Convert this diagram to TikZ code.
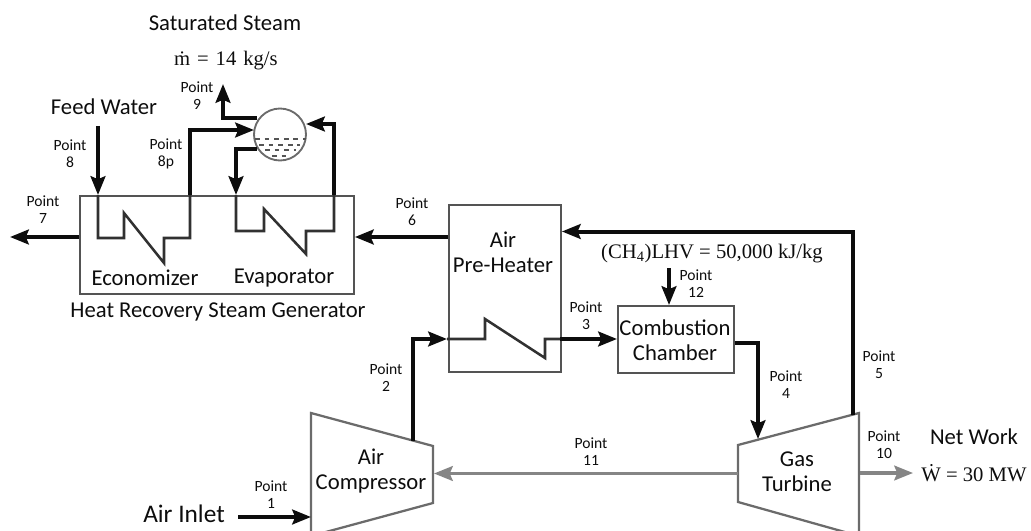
\documentclass[tikz,border=0pt]{standalone}
\usepackage{fontspec}
\setmainfont{Carlito}
\newfontfamily\cambfont{Liberation Serif}
\usetikzlibrary{arrows.meta,positioning,calc}
\definecolor{boxgray}{gray}{0.33}
\definecolor{machgray}{gray}{0.42}
\definecolor{workgray}{gray}{0.52}
\definecolor{inkblack}{gray}{0.05}
\tikzset{
  flowln/.style={inkblack,line width=3pt,-{Stealth[length=14pt,width=11pt,inset=2.2pt]}},
  coilln/.style={inkblack!85,line width=1.9pt,line join=miter},
  workln/.style={workgray,line width=2.6pt,-{Stealth[length=14pt,width=11pt,inset=2.2pt]}},
  unitbox/.style={draw=boxgray,line width=1.4pt,inner sep=0pt,anchor=north west},
  machln/.style={draw=machgray,line width=1.7pt,line join=miter},
  waterln/.style={boxgray,line width=1.1pt,dash pattern=on 3.6pt off 3.6pt},
  ptlab/.style={inkblack,font=\fontsize{11.7}{12.9}\selectfont,align=center,inner sep=0pt},
  mainlab/.style={inkblack,font=\fontsize{17}{19}\selectfont,align=center,inner sep=0pt},
  mathlab/.style={inkblack,font=\fontsize{15.5}{18}\selectfont\cambfont,inner sep=0pt},
}
\begin{document}
\begin{tikzpicture}[x=0.75pt,y=-0.75pt]
  \useasboundingbox (0,0) rectangle (1031,531);
  \clip (0,0) rectangle (1031,531);
  % units
  \node[unitbox,minimum width=205.5pt,minimum height=73.5pt] (hrsg) at (79,195) {};
  \node[unitbox,minimum width=84pt,minimum height=125.25pt] (preheat) at (448,204) {};
  \node[unitbox,minimum width=87pt,minimum height=50.25pt] (combust) at (617,305) {};
  \node[circle,draw=machgray,fill=white,line width=1.4pt,minimum size=39pt,inner sep=0pt] (drum) at (280,134.5) {};
  % water level in the drum
  \foreach \yy/\xa/\xb in {139/255/306,145/259/300,150/265/296,156/272/290}
    \draw[waterln] (\xa,\yy)--(\xb,\yy);
  % compressor and turbine
  \coordinate (cmpTL) at (311,413);
  \coordinate (cmpTR) at (433,446);
  \coordinate (cmpBR) at (433,503);
  \coordinate (cmpBL) at (311,536);
  \coordinate (turTL) at (738,445);
  \coordinate (turTR) at (859,413);
  \coordinate (turBR) at (859,536);
  \coordinate (turBL) at (738,502);
  \draw[machln] (cmpTL)--(cmpTR)--(cmpBR)--(cmpBL)--cycle;
  \draw[machln] (turTL)--(turTR)--(turBR)--(turBL)--cycle;
  % coil inlets and outlets
  \coordinate (fwtop) at (98,126);
  \coordinate (ecoin) at (98,195);
  \coordinate (ecoout) at (190,195);
  \coordinate (drumin) at (254,130);
  \coordinate (steamout) at (223,84);
  \coordinate (evapin) at (236,195);
  \coordinate (evapout) at (334,195);
  \coordinate (drumret) at (306,124);
  \coordinate (drumsteam) at (257,118);
  \coordinate (drumdown) at (257,149);
  % economizer and evaporator coils
  \draw[coilln] (ecoin)--(98,238)--(124,238)--(124,213)--(164,263)--(164,238)--(190,238)--(ecoout);
  \draw[coilln] (evapin)--(236,231)--(264,231)--(264,209)--(306,254)--(306,231)--(334,231)--(evapout);
  % air pre-heater coil
  \coordinate (phin) at (447,339);
  \coordinate (phout) at (560,339);
  \draw[coilln] (phin)--(485,339)--(485,319)--(545,358)--(545,339)--(phout);
  % steam side
  \draw[flowln] (fwtop)--(ecoin);
  \draw[flowln] (ecoout)|-(drumin);
  \draw[flowln] (drumsteam)-|(steamout);
  \draw[flowln] (drumdown)-|(evapin);
  \draw[flowln] (evapout)|-(drumret);
  % gas side
  \coordinate (hrsgout) at (10,237);
  \coordinate (cmpair) at (412.5,441);
  \coordinate (turin) at (758,439);
  \coordinate (turout) at (853,415);
  \coordinate (fueltop) at (669,268);
  \draw[flowln] (hrsg.west |- 0,237)--(hrsgout);
  \draw[flowln] (preheat.west |- 0,237)--(hrsg.east |- 0,237);
  \draw[flowln] (turout)|-(preheat.east |- 0,231.5);
  \draw[flowln] (cmpair)|-(phin);
  \draw[flowln] (phout)--(combust.west |- 0,339);
  \draw[flowln] (combust.east |- 0,343)-|(turin);
  \draw[flowln] (fueltop)--(combust.north -| fueltop);
  \coordinate (airin) at (238,517);
  \draw[flowln] (airin)--(311,517);
  % shaft and net work
  \coordinate (shaftL) at (434,473.5);
  \coordinate (shaftR) at (738,473.5);
  \coordinate (wkL) at (860,473);
  \coordinate (wkR) at (913,473);
  \draw[workln] (shaftR)--(shaftL);
  \draw[workln] (wkL)--(wkR);
  % labels
  \node[mainlab] (satlab) at (225,23) {Saturated Steam};
  \node[mathlab] (mlab) at (226,61) {\.m\,\,=\,\,14\,\,kg/s};
  \node[mainlab] (fwlab) at (104,107) {Feed Water};
  \node[mainlab] (ecolab) at (145,278) {Economizer};
  \node[mainlab] (evalab) at (284,278) {Evaporator};
  \node[mainlab] (hrsglab) at (218,312) {Heat Recovery Steam Generator};
  \node[mainlab] (phlab) at (503,252) {Air\\Pre-Heater};
  \node[mainlab] (cclab) at (675,340) {Combustion\\Chamber};
  \node[mainlab] (cmplab) at (371,471) {Air\\Compressor};
  \node[mainlab] (turlab) at (797,472) {Gas\\Turbine};
  \node[mainlab,font=\fontsize{19}{21}\selectfont] (airlab) at (184,514) {Air Inlet};
  \node[mainlab] (netlab) at (974,437) {Net Work};
  \node[mathlab] (wlab) at (974,473) {\.W = 30 MW};
  \node[mathlab] (lhvlab) at (712,254) {(CH\textsubscript{4})LHV = 50,000 kJ/kg};
  \node[ptlab] (pt1) at (271,495) {Point\\1};
  \node[ptlab] (pt2) at (386,378) {Point\\2};
  \node[ptlab] (pt3) at (586,316) {Point\\3};
  \node[ptlab] (pt4) at (786,385) {Point\\4};
  \node[ptlab] (pt5) at (879,365) {Point\\5};
  \node[ptlab] (pt6) at (412,212) {Point\\6};
  \node[ptlab] (pt7) at (43,210) {Point\\7};
  \node[ptlab] (pt8) at (70,154) {Point\\8};
  \node[ptlab] (pt8p) at (166,154) {Point\\8p};
  \node[ptlab] (pt9) at (197,96) {Point\\9};
  \node[ptlab] (pt10) at (884,445) {Point\\10};
  \node[ptlab] (pt11) at (591,452) {Point\\11};
  \node[ptlab] (pt12) at (696,284) {Point\\12};
\end{tikzpicture}
\end{document}
